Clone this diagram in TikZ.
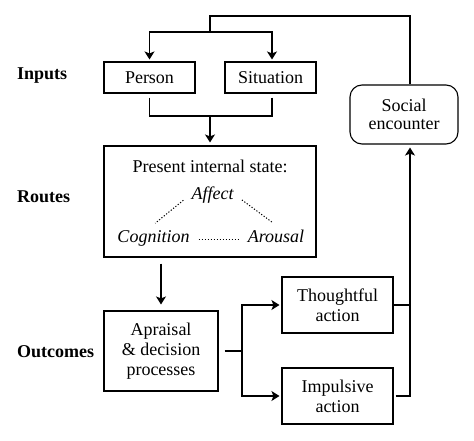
\documentclass[tikz,border=0pt]{standalone}
\usepackage{fontspec}
\setmainfont{Liberation Serif}
\usepackage{tikz}
\usetikzlibrary{arrows.meta}

\tikzset{
  box/.style={draw,line width=1.1pt,align=center,inner sep=0pt},
  rowname/.style={anchor=base west,inner sep=0pt,execute at begin node=\bfseries},
  route/.style={anchor=base,inner sep=1pt,execute at begin node=\itshape},
  link/.style={line width=1.1pt},
  arr/.style={link,-{Stealth[length=8pt,width=10pt,inset=2pt]}},
  dots/.style={line width=1pt,dash pattern=on 1.2pt off 1.8pt}
}

\begin{document}
\begin{tikzpicture}[x=1pt,y=-1pt,font=\fontsize{18}{20}\selectfont]
\useasboundingbox (0,0) rectangle (474,441);

\node[rowname] (inputs) at (17,80) {Inputs};
\node[rowname] (routes) at (17,202) {Routes};
\node[rowname] (outcomes) at (17,357) {Outcomes};

\node[box,minimum width=91pt,minimum height=31pt] (person) at (149.5,77.5) {Person};
\node[box,minimum width=91pt,minimum height=31pt] (situation) [right of=person,node distance=121pt] {Situation};

\node[box,minimum width=212pt,minimum height=111pt] (state) at (210,201.5) {};
\node[anchor=base] (present) at (210,172) {Present internal state:};
\node[route] (affect) at (212.5,199) {Affect};
\node[route] (cognition) at (153.5,242) {Cognition};
\node[route] (arousal) at (276,242) {Arousal};

\node[box,rounded corners=12pt,minimum width=108pt,minimum height=59pt] (social) at (404,114.5) {Social\\[-2pt]encounter};

\node[box,minimum width=114pt,minimum height=80pt] (apraisal) at (161,351) {Apraisal\\\& decision\\processes};
\node[box,minimum width=111pt,minimum height=56pt] (thoughtful) at (337.5,305) {Thoughtful\\action};
\node[box,minimum width=111pt,minimum height=56pt] (impulsive) [below of=thoughtful,node distance=91pt] {Impulsive\\action};

% feedback loop
\coordinate (entry) at ([xshift=6pt]social.north);
\coordinate (exit) at ([xshift=6pt]social.south);
\coordinate (loop) at (210,16);
\coordinate (split) at (210,32);
\coordinate (join) at (210,116);
\coordinate (fork) at (242,351);

\draw[link] (entry) |- (loop) -- (split);
\draw[arr,shorten >=2pt] (split) -| (person.north);
\draw[arr,shorten >=2pt] (split) -| ([xshift=1.5pt]situation.north);

\draw[link,shorten <=4pt] (person.south) |- (join);
\draw[link,shorten <=4pt] ([xshift=1.5pt]situation.south) |- (join);
\draw[arr,shorten >=3pt] (join) -- (state.north);

\draw[dots,shorten <=9pt,shorten >=9pt] (affect.west) -- (cognition.120);
\draw[dots,shorten <=9pt,shorten >=9pt] (affect.east) -- (arousal.60);
\draw[dots,shorten <=8pt,shorten >=8pt] (cognition.mid east) -- (arousal.mid west);

\draw[arr,shorten <=6pt,shorten >=6pt] (state.south -| apraisal.north) -- (apraisal.north);

\draw[link,shorten <=6pt] (apraisal.east) -- (fork);
\draw[arr,shorten >=2pt] (fork) |- (thoughtful.west);
\draw[arr,shorten >=2pt] (fork) |- (impulsive.west);

\draw[link] (thoughtful.east) -- (thoughtful.east -| exit);
\draw[arr,shorten <=2pt,shorten >=3pt] (impulsive.east) -| (exit);
\end{tikzpicture}
\end{document}
